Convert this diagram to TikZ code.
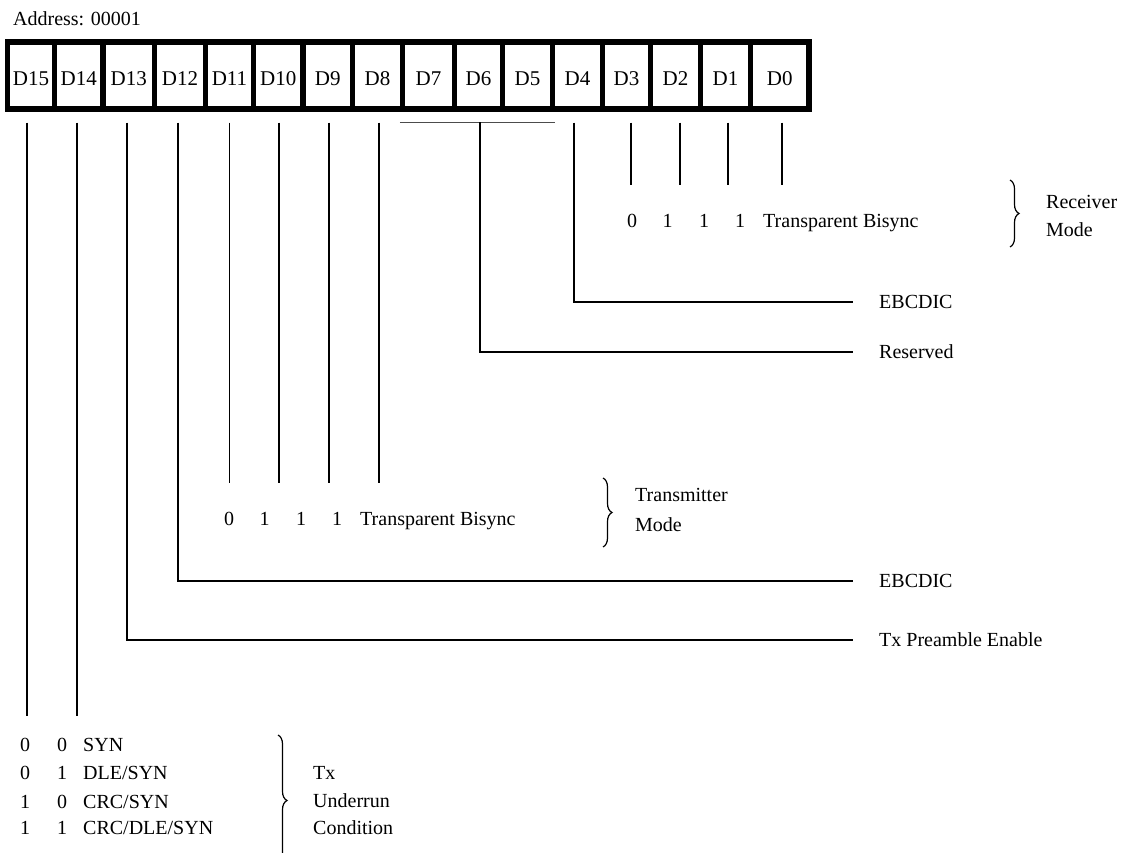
\documentclass[tikz,border=0pt]{standalone}
\usepackage{fontspec}
\setmainfont{Liberation Serif}
\usetikzlibrary{positioning, decorations.pathreplacing}

\newcommand{\modebits}[5]{\makebox[35.5pt][l]{#1}\makebox[36.5pt][l]{#2}\makebox[36pt][l]{#3}\makebox[28pt][l]{#4}#5}
\newcommand{\condrow}[3]{\makebox[37pt][l]{#1}\makebox[26pt][l]{#2}#3}

\begin{document}
\begin{tikzpicture}[x=1pt, y=-1pt,
  font=\fontsize{20}{24}\selectfont,
  cell/.style={draw, line width=5.5pt, inner sep=0pt, minimum height=67pt,
    text height=21pt, text depth=0pt, font=\fontsize{21}{24}\selectfont},
  tag/.style={anchor=west, inner sep=0pt, text height=13.2pt, text depth=0pt},
  blk/.style={anchor=west, inner sep=0pt, align=left},
  bit/.style={line width=1.8pt, shorten <=11pt},
  lead/.style={bit, shorten >=26pt},
  grp/.style={line width=0.8pt, black!70},
  brc/.style={decorate, decoration={brace, amplitude=9pt}, line width=1.2pt}]
  \useasboundingbox (0,0) rectangle (1128,853);

  \node[tag] (addr) at (13,18.5) {Address: 00001};

  \foreach \b/\lo/\hi in {15/7.5/54.5, 14/54.5/103, 13/103/154.5, 12/154.5/205.5,
      11/205.5/253.5, 10/253.5/303, 9/303/352.5, 8/352.5/402.5, 7/402.5/454.5,
      6/454.5/502.5, 5/502.5/552.5, 4/552.5/602.5, 3/602.5/650.5, 2/650.5/700.5,
      1/700.5/750.5, 0/750.5/809}
    \node[cell, minimum width={(\hi-\lo)*1pt}] (d\b) at ({(\lo+\hi)/2},75.5) {D\b};

  \node[tag] (ebc1) at (879,302) {EBCDIC};
  \node[tag] (resv) at (879,352) {Reserved};
  \node[tag] (ebc2) at (879,581) {EBCDIC};
  \node[tag] (pre) at (879,640) {Tx Preamble Enable};

  \node[tag] (rxbits) at (627,220.5) {\modebits{0}{1}{1}{1}{Transparent Bisync}};
  \node[blk, font=\fontsize{20}{28.5}\selectfont] (rxmode) at (1046,216) {Receiver\\Mode};
  \draw[brc] (1010,180) -- (1010,247);

  \node[tag] (txbits) at (224,519) {\modebits{0}{1}{1}{1}{Transparent Bisync}};
  \node[blk, font=\fontsize{20}{30}\selectfont] (txmode) at (635,510) {Transmitter\\Mode};
  \draw[brc] (603,478) -- (603,547);

  \node[tag] (c1) at (20,745) {\condrow{0}{0}{SYN}};
  \node[tag] (c2) at (20,773) {\condrow{0}{1}{DLE/SYN}};
  \node[tag] (c3) at (20,801.5) {\condrow{1}{0}{CRC/SYN}};
  \node[tag] (c4) at (20,828) {\condrow{1}{1}{CRC/DLE/SYN}};
  \node[blk, font=\fontsize{20}{27.5}\selectfont] (urun) at (313,801) {Tx\\Underrun\\Condition};
  \draw[brc] (278,735) -- (278,866);

  \foreach \b/\dx in {15/-4, 14/-2}
    \draw[bit, shorten >=22pt] ([xshift=\dx pt]d\b.south) -- ([xshift=\dx pt]d\b.south |- c1.north);
  \foreach \b/\dx in {11/0, 10/1, 9/1, 8/1.5}
    \draw[bit, shorten >=29pt] ([xshift=\dx pt]d\b.south) -- ([xshift=\dx pt]d\b.south |- txbits.north);
  \foreach \b/\dx in {3/4.5, 2/4.5, 1/2.5, 0/2}
    \draw[bit, shorten >=29pt] ([xshift=\dx pt]d\b.south) -- ([xshift=\dx pt]d\b.south |- rxbits.north);

  \draw[lead] ([xshift=-2pt]d13.south) |- (pre.west);
  \draw[lead] ([xshift=-2pt]d12.south) |- (ebc2.west);
  \draw[lead] ([xshift=-3.5pt]d4.south) |- (ebc1.west);
  \draw[grp] ([yshift=-10.5pt]d7.south west) -- ([yshift=-10.5pt]d5.south east);
  \draw[lead, shorten <=0pt] ([xshift=1.5pt, yshift=-10.5pt]d6.south) |- (resv.west);
\end{tikzpicture}
\end{document}
